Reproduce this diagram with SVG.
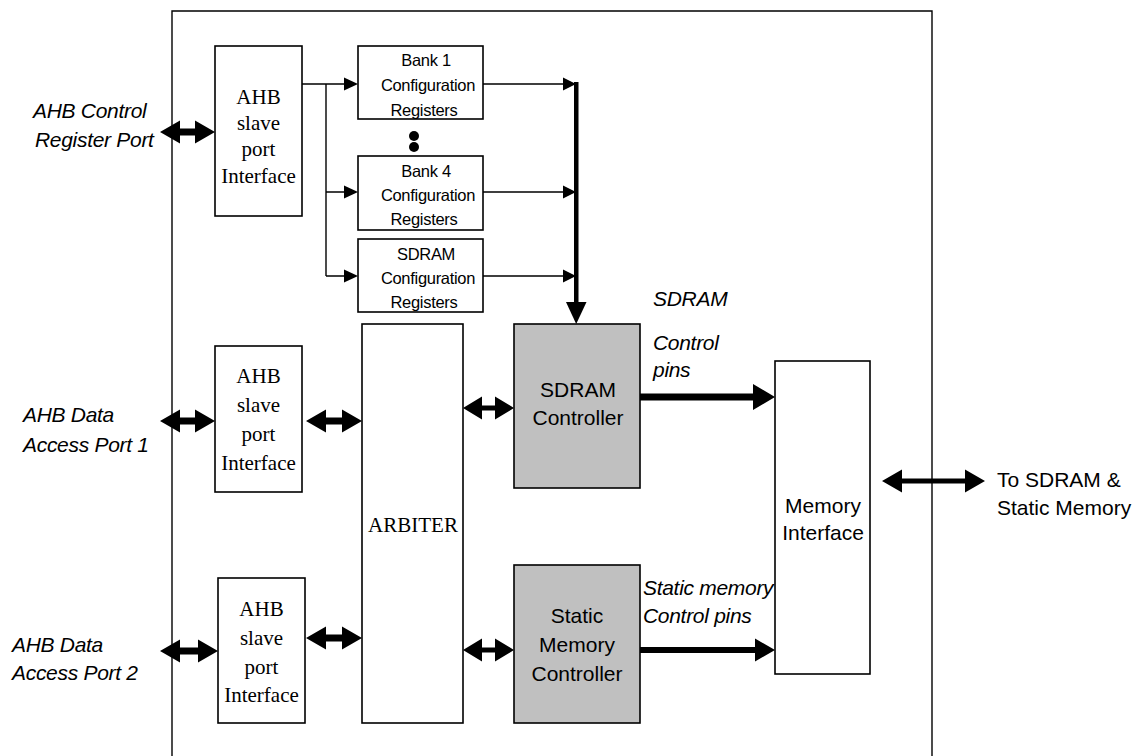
<svg xmlns="http://www.w3.org/2000/svg" width="1135" height="756" viewBox="0 0 1135 756">
  <style>
    .box { fill: #ffffff; stroke: #000000; stroke-width: 1.6; }
    .ctl { fill: #c0c0c0; stroke: #000000; stroke-width: 1.6; }
    .wire { fill: none; stroke: #000000; stroke-width: 1.4; }
    .head { fill: #000000; stroke: none; }
    .serif { font-family: "Liberation Serif", "Times New Roman", serif; font-size: 21px; fill: #000; text-anchor: middle; }
    .sans { font-family: "Liberation Sans", Arial, sans-serif; font-size: 21px; fill: #000; }
    .mid { text-anchor: middle; }
    .reg { font-family: "Liberation Sans", Arial, sans-serif; font-size: 16.5px; fill: #000; text-anchor: middle; letter-spacing: -0.3px; }
    .ital { font-style: italic; letter-spacing: -0.3px; }
  </style>

  <!-- chip outline -->
  <path class="wire" d="M172 760 V11 H932 V760" stroke-width="1.6"/>

  <!-- external port labels -->
  <g id="labels" class="sans">
    <text class="ital" x="33" y="118">AHB Control</text>
    <text class="ital" x="35" y="147">Register Port</text>
    <text class="ital" x="23" y="422">AHB Data</text>
    <text class="ital" x="23" y="452">Access Port 1</text>
    <text class="ital" x="12" y="652">AHB Data</text>
    <text class="ital" x="12" y="680">Access Port 2</text>
    <text class="ital" x="653" y="306">SDRAM</text>
    <text class="ital" x="653" y="350">Control</text>
    <text class="ital" x="653" y="377">pins</text>
    <text class="ital" x="643" y="595">Static memory</text>
    <text class="ital" x="643" y="623">Control pins</text>
    <text x="997" y="487">To SDRAM &amp;</text>
    <text x="997" y="515">Static Memory</text>
  </g>

  <!-- slave port interfaces -->
  <g id="slave-ctrl">
    <rect class="box" x="215" y="46" width="87" height="170"/>
    <text class="serif" x="258.5" y="104">AHB</text>
    <text class="serif" x="258.5" y="130">slave</text>
    <text class="serif" x="258.5" y="156">port</text>
    <text class="serif" x="258.5" y="183">Interface</text>
  </g>
  <g id="slave-data1">
    <rect class="box" x="215" y="346" width="87" height="146"/>
    <text class="serif" x="258.5" y="383">AHB</text>
    <text class="serif" x="258.5" y="412">slave</text>
    <text class="serif" x="258.5" y="441">port</text>
    <text class="serif" x="258.5" y="470">Interface</text>
  </g>
  <g id="slave-data2">
    <rect class="box" x="218" y="578" width="87" height="145"/>
    <text class="serif" x="261.5" y="616">AHB</text>
    <text class="serif" x="261.5" y="645">slave</text>
    <text class="serif" x="261.5" y="674">port</text>
    <text class="serif" x="261.5" y="702">Interface</text>
  </g>

  <!-- configuration registers -->
  <g id="bank1-regs">
    <rect class="box" x="358" y="46" width="125" height="73"/>
    <text class="reg" x="426" y="66">Bank 1</text>
    <text class="reg" x="428" y="91">Configuration</text>
    <text class="reg" x="424" y="116">Registers</text>
  </g>
  <g id="bank-dots">
    <circle cx="414" cy="136" r="5"/>
    <circle cx="414" cy="147" r="5"/>
  </g>
  <g id="bank4-regs">
    <rect class="box" x="358" y="156" width="125" height="74"/>
    <text class="reg" x="426" y="177">Bank 4</text>
    <text class="reg" x="428" y="201">Configuration</text>
    <text class="reg" x="424" y="225">Registers</text>
  </g>
  <g id="sdram-regs">
    <rect class="box" x="358" y="239" width="125" height="73"/>
    <text class="reg" x="426" y="260">SDRAM</text>
    <text class="reg" x="428" y="284">Configuration</text>
    <text class="reg" x="424" y="308">Registers</text>
  </g>

  <!-- arbiter -->
  <g id="arbiter">
    <rect class="box" x="362" y="324" width="101" height="399"/>
    <text class="serif" x="413" y="532">ARBITER</text>
  </g>

  <!-- controllers -->
  <g id="sdram-controller">
    <rect class="ctl" x="514" y="324" width="126" height="164"/>
    <text class="sans mid" x="578" y="397">SDRAM</text>
    <text class="sans mid" x="578" y="425">Controller</text>
  </g>
  <g id="static-controller">
    <rect class="ctl" x="514" y="565" width="126" height="158"/>
    <text class="sans mid" x="577" y="623">Static</text>
    <text class="sans mid" x="577" y="652">Memory</text>
    <text class="sans mid" x="577" y="681">Controller</text>
  </g>

  <!-- memory interface -->
  <g id="memory-interface">
    <rect class="box" x="775" y="361" width="95" height="313"/>
    <text class="sans mid" x="823" y="513">Memory</text>
    <text class="sans mid" x="823" y="540">Interface</text>
  </g>

  <!-- connectors -->
  <g id="connectors">
    <!-- register fan-out from the control slave port -->
    <path class="wire" d="M302 84 H344 M326 84 V276 M326 192 H344 M326 276 H344"/>
    <polygon class="head" points="344,77.5 358,84 344,90.5"/>
    <polygon class="head" points="344,185.5 358,192 344,198.5"/>
    <polygon class="head" points="344,269.5 358,276 344,282.5"/>

    <!-- register outputs into the configuration bus -->
    <path class="wire" d="M483 84 H563 M483 192 H563 M483 276 H563"/>
    <polygon class="head" points="563,77.5 576,84 563,90.5"/>
    <polygon class="head" points="563,185.5 576,192 563,198.5"/>
    <polygon class="head" points="563,269.5 576,276 563,282.5"/>

    <!-- configuration bus down to the SDRAM controller -->
    <rect class="head" x="574" y="82" width="4.5" height="222"/>
    <polygon class="head" points="566,302 586.5,302 576.2,324"/>

    <!-- bidirectional buses -->
    <polygon class="head" points="160,132 180,120.5 180,128.5 195,128.5 195,120.5 215,132 195,143.5 195,135.5 180,135.5 180,143.5"/>
    <polygon class="head" points="160,421 180,409.5 180,417.5 195,417.5 195,409.5 215,421 195,432.5 195,424.5 180,424.5 180,432.5"/>
    <polygon class="head" points="306,421 326,409.5 326,417.5 342,417.5 342,409.5 362,421 342,432.5 342,424.5 326,424.5 326,432.5"/>
    <polygon class="head" points="160,651 180,639.5 180,647.5 198,647.5 198,639.5 218,651 198,662.5 198,654.5 180,654.5 180,662.5"/>
    <polygon class="head" points="306,638 326,626.5 326,634.5 342,634.5 342,626.5 362,638 342,649.5 342,641.5 326,641.5 326,649.5"/>
    <polygon class="head" points="463,408 482,396.5 482,405.5 495,405.5 495,396.5 514,408 495,419.5 495,410.5 482,410.5 482,419.5"/>
    <polygon class="head" points="463,650 482,638.5 482,647.5 495,647.5 495,638.5 514,650 495,661.5 495,652.5 482,652.5 482,661.5"/>
    <polygon class="head" points="882,481 902,469.5 902,478.5 965,478.5 965,469.5 985,481 965,492.5 965,483.5 902,483.5 902,492.5"/>

    <!-- controller pin buses to the memory interface -->
    <polygon class="head" points="640,393.5 753,393.5 753,384 775,397 753,410 753,400.5 640,400.5"/>
    <polygon class="head" points="640,647 755,647 755,638.5 775,650 755,661.5 755,653 640,653"/>
  </g>
</svg>
